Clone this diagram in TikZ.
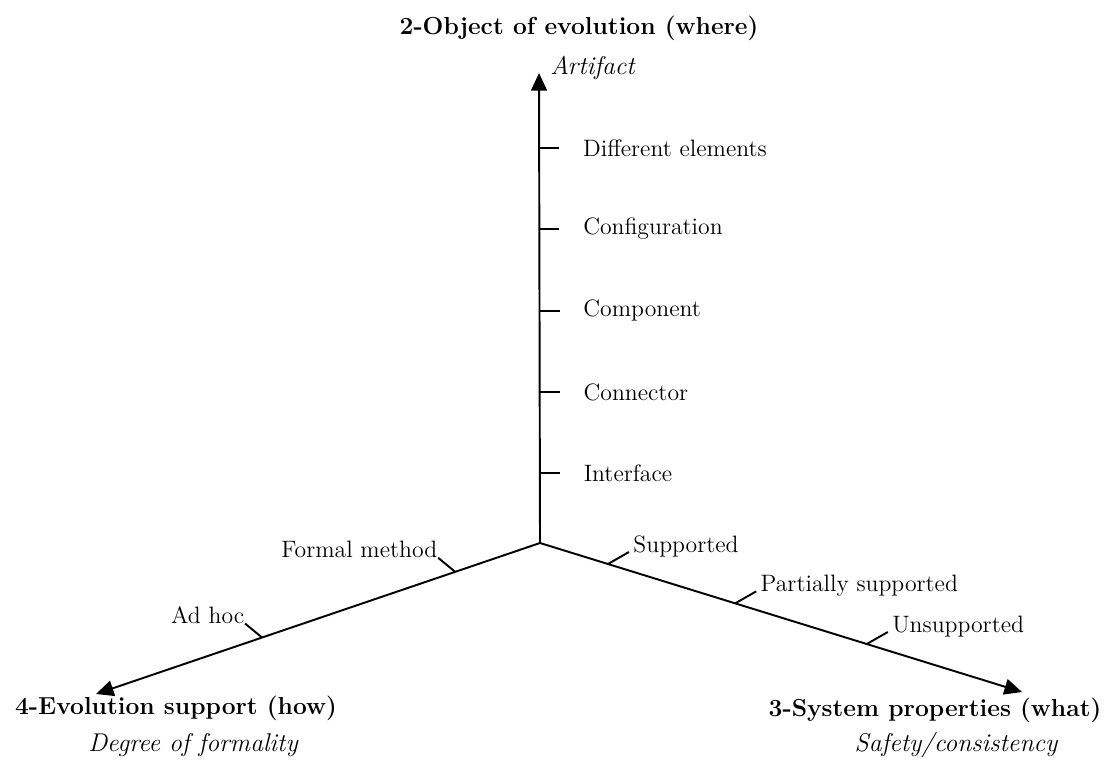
\documentclass[tikz,border=0pt]{standalone}
\usepackage{tikz}
\usetikzlibrary{arrows.meta, positioning}

\begin{document}
\begin{tikzpicture}[x=0.02cm, y=-0.02cm,
    axis/.style={line width=1.1pt, -{Triangle[length=10pt, width=9pt]}},
    tick/.style={line width=1.1pt},
    title/.style={font=\fontsize{14}{17}\selectfont\bfseries, inner sep=0pt},
    sub/.style={font=\fontsize{14.6}{17}\selectfont\itshape, inner sep=0pt},
    lbl/.style={font=\fontsize{13.5}{16}\selectfont, inner sep=0pt}
]
\useasboundingbox (0,0) rectangle (1109,761);

\coordinate (o)     at (540,543);
\coordinate (top)   at (539,73);
\coordinate (left)  at (96,694);
\coordinate (right) at (1022,692);

% the three axes
\draw[axis] (o) -- (top)   coordinate[pos=0.149] (v1) coordinate[pos=0.321] (v2)
                           coordinate[pos=0.494] (v3) coordinate[pos=0.668] (v4)
                           coordinate[pos=0.840] (v5);
\draw[axis] (o) -- (left)  coordinate[pos=0.191] (h1) coordinate[pos=0.626] (h2);
\draw[axis] (o) -- (right) coordinate[pos=0.141] (w1) coordinate[pos=0.405] (w2)
                           coordinate[pos=0.678] (w3);

% axis titles
\node[title] (where) at (579,28) {2-Object of evolution (where)};
\node[sub, anchor=west] (artifact) at (550,68) {Artifact};
\node[title] (how) at (176,708) {4-Evolution support (how)};
\node[sub] (formality) at (193,745) {Degree of formality};
\node[title] (what) at (935,710) {3-System properties (what)};
\node[sub] (safety) at (956,745) {Safety/consistency};

% ticks on the object axis
\draw[tick] (v1) -- ++(20,0) node[lbl, right=0.46cm] (interface) {Interface};
\draw[tick] (v2) -- ++(20,0) node[lbl, right=0.46cm] (connector) {Connector};
\draw[tick] (v3) -- ++(20,0) node[lbl, right=0.46cm] (component) {Component};
\draw[tick] (v4) -- ++(20,0) node[lbl, right=0.46cm] (config) {Configuration};
\draw[tick] (v5) -- ++(20,0) node[lbl, right=0.46cm] (different) {Different elements};

% ticks on the support axis
\draw[tick] (h1) -- ++(-17,-14) node[lbl, anchor=base east] (formal) {Formal method};
\draw[tick] (h2) -- ++(-17,-14) node[lbl, anchor=base east] (adhoc) {Ad hoc};

% ticks on the properties axis
\draw[tick] (w1) -- ++(21,-12) node[lbl, anchor=base west, xshift=2pt] (supp) {Supported};
\draw[tick] (w2) -- ++(21,-12) node[lbl, anchor=base west, xshift=2pt] (partial) {Partially supported};
\draw[tick] (w3) -- ++(21,-12) node[lbl, anchor=base west, xshift=2pt] (unsupp) {Unsupported};
\end{tikzpicture}
\end{document}
